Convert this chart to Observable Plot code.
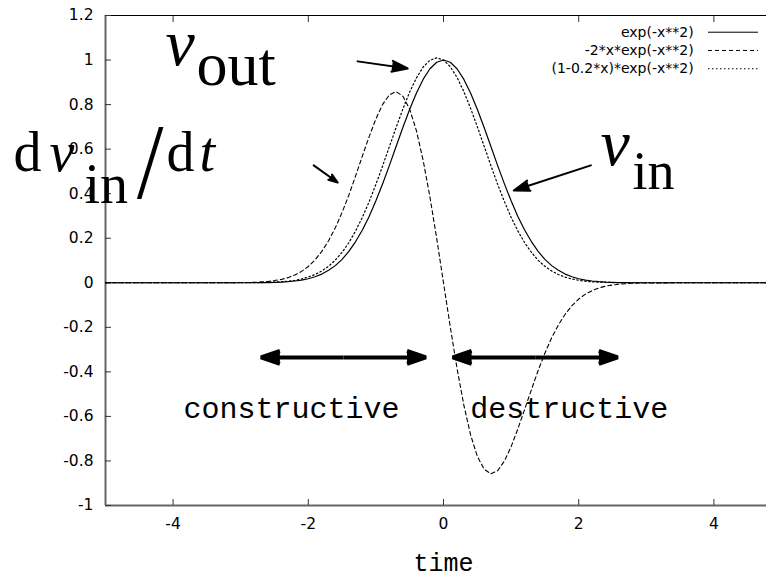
<!DOCTYPE html>
<html>
<head>
<meta charset="utf-8">
<script src="https://cdn.jsdelivr.net/npm/d3@7"></script>
<script src="https://cdn.jsdelivr.net/npm/@observablehq/plot@0.6"></script>
<style>
  html, body { margin: 0; padding: 0; background: #fff; overflow: hidden; }
  #chart { width: 766px; height: 577px; overflow: hidden; }
</style>
</head>
<body>
<div id="chart"></div>
<script>
// ---- chart data ----
const time = [-5, -4, -3.5,
  -3, -2.9, -2.8, -2.7, -2.6, -2.5, -2.4, -2.3, -2.2, -2.1, -2, -1.9, -1.8, -1.7, -1.6, -1.5, -1.4, -1.3, -1.2, -1.1, -1, -0.9, -0.8, -0.7, -0.6, -0.5, -0.4, -0.3, -0.2, -0.1,
  0,
  0.1, 0.2, 0.3, 0.4, 0.5, 0.6, 0.7, 0.8, 0.9, 1, 1.1, 1.2, 1.3, 1.4, 1.5, 1.6, 1.7, 1.8, 1.9, 2, 2.1, 2.2, 2.3, 2.4, 2.5, 2.6, 2.7, 2.8, 2.9, 3,
  3.5, 4, 5];

// exp(-x**2)
const vIn = [0, 0, 0,
  0.000, 0.000, 0.000, 0.001, 0.001, 0.002, 0.003, 0.005, 0.008, 0.012, 0.018, 0.027, 0.039, 0.056, 0.077, 0.105, 0.141, 0.185, 0.237, 0.298, 0.368, 0.445, 0.527, 0.613, 0.698, 0.779, 0.852, 0.914, 0.961, 0.990,
  1.000,
  0.990, 0.961, 0.914, 0.852, 0.779, 0.698, 0.613, 0.527, 0.445, 0.368, 0.298, 0.237, 0.185, 0.141, 0.105, 0.077, 0.056, 0.039, 0.027, 0.018, 0.012, 0.008, 0.005, 0.003, 0.002, 0.001, 0.001, 0.000, 0.000, 0.000,
  0, 0, 0];

// -2*x*exp(-x**2)
const dvIn = [0, 0, 0,
  0.001, 0.001, 0.002, 0.004, 0.006, 0.010, 0.015, 0.023, 0.035, 0.051, 0.073, 0.103, 0.141, 0.189, 0.247, 0.316, 0.394, 0.480, 0.569, 0.656, 0.736, 0.801, 0.844, 0.858, 0.837, 0.779, 0.682, 0.548, 0.384, 0.198,
  0,
  -0.198, -0.384, -0.548, -0.682, -0.779, -0.837, -0.858, -0.844, -0.801, -0.736, -0.656, -0.569, -0.480, -0.394, -0.316, -0.247, -0.189, -0.141, -0.103, -0.073, -0.051, -0.035, -0.023, -0.015, -0.010, -0.006, -0.004, -0.002, -0.001, -0.001,
  0, 0, 0];

// (1-0.2*x)*exp(-x**2)
const vOut = [0, 0, 0,
  0.000, 0.000, 0.001, 0.001, 0.002, 0.003, 0.005, 0.007, 0.011, 0.017, 0.026, 0.037, 0.053, 0.074, 0.102, 0.137, 0.180, 0.233, 0.294, 0.364, 0.442, 0.525, 0.612, 0.698, 0.781, 0.857, 0.920, 0.969, 0.999, 1.010,
  1.000,
  0.970, 0.922, 0.859, 0.784, 0.701, 0.614, 0.527, 0.443, 0.365, 0.294, 0.233, 0.180, 0.137, 0.101, 0.074, 0.053, 0.037, 0.025, 0.017, 0.011, 0.007, 0.004, 0.003, 0.002, 0.001, 0.001, 0.000, 0.000, 0.000, 0.000,
  0, 0, 0];

const seriesLabels = ["exp(-x**2)", "-2*x*exp(-x**2)", "(1-0.2*x)*exp(-x**2)"];
const xTicks = [-4, -2, 0, 2, 4];
const yTicks = [-1, -0.8, -0.6, -0.4, -0.2, 0, 0.2, 0.4, 0.6, 0.8, 1, 1.2];
const regionLabels = ["constructive", "destructive"];
const axisTitle = "time";

// ---- annotations (in data coordinates) ----
const pointerArrows = [
  {x1: -1.27, y1: 0.994, x2: -0.53, y2: 0.962},
  {x1: -1.92, y1: 0.527, x2: -1.565, y2: 0.450},
  {x1: 2.18, y1: 0.527, x2: 1.04, y2: 0.414}
];
const spanArrows = [
  {from: -2.70, to: -0.26, y: -0.335},
  {from: 0.136, to: 2.578, y: -0.335}
];
const regionLabelPos = [{x: -2.25, y: -0.609}, {x: 1.86, y: -0.609}];
const italicPieces = [
  {x: -4.112, y: 0.976, text: "v", size: 66},
  {x: -5.828, y: 0.504, text: "v", size: 56},
  {x: -3.609, y: 0.504, text: "t", size: 56},
  {x: 2.322, y: 0.527, text: "v", size: 66}
];
const romanPieces = [
  {x: -3.654, y: 0.886, text: "out", size: 62},
  {x: -6.36, y: 0.504, text: "d", size: 56},
  {x: -5.31, y: 0.356, text: "in", size: 56},
  {x: -4.098, y: 0.504, text: "d", size: 56},
  {x: 2.797, y: 0.423, text: "in", size: 54}
];
const slashPiece = [{x: -4.556, y: 0.414, text: "/", size: 87}];
const legendRowY = [1.125, 1.043, 0.961];
const legendTextX = 3.70, legendLineX1 = 3.92, legendLineX2 = 4.66;

// ---- build ----
const rows = time.map((t, i) => ({t, a: vIn[i], b: dvIn[i], c: vOut[i]}));
const spanHalves = spanArrows.flatMap(s => {
  const m = (s.from + s.to) / 2;
  return [{x1: m, x2: s.from, y: s.y}, {x1: m, x2: s.to, y: s.y}];
});
const fmt = d => String(Math.round(d * 10) / 10);
const sans = "'DejaVu Sans', 'Liberation Sans', Arial, sans-serif";
const serif = "'Liberation Serif', 'Times New Roman', serif";
const mono = "'Liberation Mono', 'Courier New', monospace";
const dashes = [null, "4,3", "1.5,2.5"];

const chart = Plot.plot({
  width: 782,
  height: 577,
  marginLeft: 105,
  marginRight: 1,
  marginTop: 15,
  marginBottom: 72,
  x: {domain: [-5, 5], label: null},
  y: {domain: [-1, 1.2], label: null},
  style: {maxWidth: "none", background: "white", color: "black", overflow: "visible"},
  marks: [
    // frame
    Plot.ruleY([1.2], {stroke: "black", strokeWidth: 1}),
    Plot.ruleX([-5], {stroke: "#666", strokeWidth: 2}),
    Plot.ruleY([-1], {stroke: "#666", strokeWidth: 2}),
    // axes (ticks inward)
    Plot.axisX({anchor: "bottom", ticks: xTicks, tickSize: -6, tickPadding: 18, tickFormat: fmt,
      fontSize: 15.5, fontFamily: sans, stroke: "#333", label: null}),
    Plot.axisX({anchor: "top", ticks: xTicks, tickSize: -6, tickFormat: () => "", stroke: "#333", label: null}),
    Plot.axisY({anchor: "left", ticks: yTicks, tickSize: -6, tickPadding: 18, tickFormat: fmt,
      fontSize: 15.5, fontFamily: sans, stroke: "#333", label: null}),
    // curves
    Plot.line(rows, {x: "t", y: "a", stroke: "black", strokeWidth: 1.2}),
    Plot.line(rows, {x: "t", y: "b", stroke: "black", strokeWidth: 1.1, strokeDasharray: dashes[1]}),
    Plot.line(rows, {x: "t", y: "c", stroke: "black", strokeWidth: 1.2, strokeDasharray: dashes[2]}),
    // legend
    Plot.text(seriesLabels, {x: legendTextX, y: (d, i) => legendRowY[i], text: d => d, textAnchor: "end",
      lineAnchor: "middle", fontSize: 14, fontFamily: sans, fill: "black"}),
    Plot.ruleY([legendRowY[0]], {x1: legendLineX1, x2: legendLineX2, stroke: "black", strokeWidth: 1}),
    Plot.ruleY([legendRowY[1]], {x1: legendLineX1, x2: legendLineX2, stroke: "black", strokeWidth: 1, strokeDasharray: dashes[1]}),
    Plot.ruleY([legendRowY[2]], {x1: legendLineX1, x2: legendLineX2, stroke: "black", strokeWidth: 1, strokeDasharray: dashes[2]}),
    // pointer arrows
    Plot.arrow(pointerArrows, {x1: "x1", y1: "y1", x2: "x2", y2: "y2", stroke: "black", fill: "black",
      strokeWidth: 2, headAngle: 38, headLength: 12.5}),
    // double arrows
    Plot.arrow(spanHalves, {x1: "x1", y1: "y", x2: "x2", y2: "y", stroke: "black", fill: "black",
      strokeWidth: 4, headAngle: 38, headLength: 7.5, strokeLinecap: "butt"}),
    // region labels
    Plot.text(regionLabels, {x: (d, i) => regionLabelPos[i].x, y: (d, i) => regionLabelPos[i].y, text: d => d,
      textAnchor: "middle", lineAnchor: "bottom", fontSize: 30, fontFamily: mono, fill: "black"}),
    // math labels
    Plot.text(italicPieces, {x: "x", y: "y", text: "text", fontSize: "size", fontFamily: serif, fontStyle: "italic",
      textAnchor: "start", lineAnchor: "bottom", fill: "black"}),
    Plot.text(romanPieces, {x: "x", y: "y", text: "text", fontSize: "size", fontFamily: serif,
      textAnchor: "start", lineAnchor: "bottom", fill: "black"}),
    Plot.text(slashPiece, {x: "x", y: "y", text: "text", fontSize: "size", fontFamily: "'DejaVu Sans'", fontWeight: 200,
      textAnchor: "start", lineAnchor: "bottom", fill: "black"}),
    // x axis title
    Plot.text([axisTitle], {x: 0, frameAnchor: "bottom", dy: 65, text: d => d, textAnchor: "middle",
      lineAnchor: "bottom", fontSize: 25, fontFamily: mono, fill: "black"})
  ]
});
document.getElementById("chart").appendChild(chart);
</script>
</body>
</html>
